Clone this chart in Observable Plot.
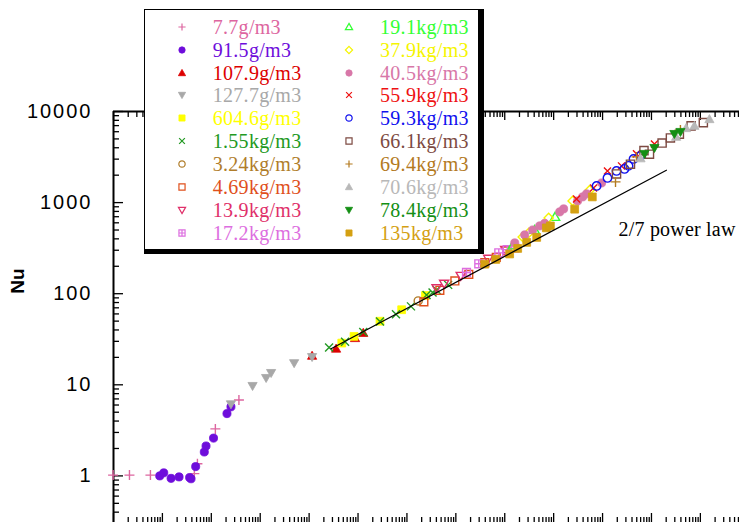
<!DOCTYPE html>
<html><head><meta charset="utf-8">
<script src="https://cdn.jsdelivr.net/npm/d3@7"></script>
<script src="https://cdn.jsdelivr.net/npm/@observablehq/plot@0.6"></script>
<style>
html,body{margin:0;padding:0;background:#fff;overflow:hidden}
#wrap{position:relative;width:739px;height:522px;overflow:hidden;background:#fff}
#legend{position:absolute;left:144px;top:9px;width:340px;height:245px;box-sizing:border-box;border-style:solid;border-color:#000;border-width:1px 6px 5px 1px;background:#fff}
.lab{position:absolute;font-family:"Liberation Serif","Times New Roman",serif;font-size:20px;line-height:22px;white-space:nowrap;letter-spacing:0.3px}
.sym{position:absolute;overflow:visible}
</style></head><body>
<div id="wrap"><div id="chart"></div><div id="legend"></div></div>
<script>
// ---- data ----
const densityLabels = ["7.7g/m3","91.5g/m3","107.9g/m3","127.7g/m3","604.6g/m3","1.55kg/m3","3.24kg/m3","4.69kg/m3","13.9kg/m3","17.2kg/m3",
  "19.1kg/m3","37.9kg/m3","40.5kg/m3","55.9kg/m3","59.3kg/m3","66.1kg/m3","69.4kg/m3","70.6kg/m3","78.4kg/m3","135kg/m3"];

const ra_7_7g = [98, 212, 569, 4.5e3, 5.2e3, 1.21e4, 3.67e4];
const nu_7_7g = [1.02, 1.02, 1.02, 1.06, 1.36, 3.28, 6.8];
const ra_91_5g = [881, 1065, 1505, 2190, 3600, 3850, 4790, 7190, 7800, 1.11e4, 2.09e4, 2.52e4];
const nu_91_5g = [1.0, 1.08, 0.94, 0.975, 0.96, 0.93, 1.265, 1.83, 2.13, 2.6, 4.83, 5.73];
const ra_107_9g = [1.15e6, 3.56e6, 8.69e6, 1.28e7];
const nu_107_9g = [20.8, 24.9, 32.5, 37.1];
const ra_127_7g = [2.52e4, 6.97e4, 1.32e5, 1.67e5, 4.94e5, 1.15e6];
const nu_127_7g = [6.12, 9.73, 11.9, 13.5, 17.3, 20.2];
const ra_604_6g = [4.65e6, 8.28e6, 2.81e7, 7.8e7, 2.39e8];
const nu_604_6g = [28.7, 34.0, 49.9, 66.7, 95.5];
const ra_1_55kg = [2.56e6, 5.43e6, 1.28e7, 2.81e7, 5.97e7, 1.21e8, 2.52e8, 3.34e8, 4.04e8, 6.97e8];
const nu_1_55kg = [25.6, 29.6, 38.1, 49.4, 59.6, 72.6, 97, 103, 110, 125];
const ra_3_24kg = [1.70e8];
const nu_3_24kg = [83.4];
const ra_4_69kg = [2.22e8, 4.71e8, 9.55e8, 1.84e9, 3.91e9, 6.71e9, 1.10e10];
const nu_4_69kg = [81.3, 109, 138, 163, 219, 250, 295];
const ra_13_9kg = [4.04e8, 5.77e8, 1.26e9, 4.6e9, 1.02e10];
const nu_13_9kg = [115, 129, 157, 242, 303];
const ra_17_2kg = [1.65e9, 2.94e9, 7.55e9, 1.12e10, 1.6e10];
const nu_17_2kg = [171, 213, 281, 304, 316];
const ra_19_1kg = [1.46e10, 4.09e10, 1.07e11];
const nu_19_1kg = [339, 501, 697];
const ra_37_9kg = [2.33e10, 3.09e10, 7.9e10, 2.44e11, 5.43e11];
const nu_37_9kg = [420, 465, 679, 1044, 1368];
const ra_40_5kg = [1.6e10, 2.56e10, 3.72e10, 5.18e10, 6.55e10, 1.33e11, 1.6e11, 3.09e11, 3.91e11, 4.71e11, 9.55e11];
const nu_40_5kg = [361, 442, 501, 555, 591, 791, 853, 1044, 1155, 1247, 1644];
const ra_55_9kg = [2.94e11, 6.55e11, 1.26e12, 2.44e12, 4.94e12, 1.15e13];
const nu_55_9kg = [1098, 1449, 2228, 2529, 3427, 4406];
const ra_59_3kg = [7.55e11, 1.26e12, 1.93e12, 2.81e12, 3.4e12, 4.3e12, 5.97e12];
const nu_59_3kg = [1525, 1866, 2228, 2344, 2529, 3017, 3258];
const ra_66_1kg = [1.93e12, 3.72e12, 7.03e12, 9.1e12, 1.65e13, 2.44e13, 3.72e13, 6.46e13, 1.15e14];
const nu_66_1kg = [2065, 2642, 3722, 3396, 4500, 5129, 5636, 6950, 7551];
const ra_69_4kg = [1.84e12, 4.94e12, 3.91e13];
const nu_69_4kg = [1687, 3175, 6280];
const ra_70_6kg = [5.97e12, 3.19e13, 5.1e13, 7.55e13, 1.53e14];
const nu_70_6kg = [3055, 5260, 6560, 6950, 8236];
const ra_78_4kg = [7.2e12, 1.15e13, 2.94e13, 3.91e13];
const nu_78_4kg = [3427, 3984, 5675, 5975];
const ra_135kg = [3.91e9, 6.55e9, 1.26e10, 1.84e10, 2.81e10, 4.5e10, 7.1e10, 8.57e10, 2.69e11, 6.17e11];
const nu_135kg = [211, 238, 273, 314, 366, 415, 528, 555, 847, 1155];

const seriesRa = [ra_7_7g, ra_91_5g, ra_107_9g, ra_127_7g, ra_604_6g, ra_1_55kg, ra_3_24kg, ra_4_69kg, ra_13_9kg, ra_17_2kg,
  ra_19_1kg, ra_37_9kg, ra_40_5kg, ra_55_9kg, ra_59_3kg, ra_66_1kg, ra_69_4kg, ra_70_6kg, ra_78_4kg, ra_135kg];
const seriesNu = [nu_7_7g, nu_91_5g, nu_107_9g, nu_127_7g, nu_604_6g, nu_1_55kg, nu_3_24kg, nu_4_69kg, nu_13_9kg, nu_17_2kg,
  nu_19_1kg, nu_37_9kg, nu_40_5kg, nu_55_9kg, nu_59_3kg, nu_66_1kg, nu_69_4kg, nu_70_6kg, nu_78_4kg, nu_135kg];

// 2/7 power law reference line: Nu = coef * Ra^(2/7)
const powerLawRa = [2.81e6, 2.02e13];
const powerLawCoef = 0.358;
const powerLawExp = 2 / 7;
const powerLawLabel = "2/7 power law";
const powerLawLabelAt = {ra: 2.12e12, nu: 501};

// axes
const xDomain = [1e2, Math.pow(10, 14.8)];
const yDomain = [0.308, 1e4];
const yMajor = [1, 10, 100, 1000, 10000];
const yMinor = [0.4, 0.5, 0.6, 0.7, 0.8, 0.9, 2, 3, 4, 5, 6, 7, 8, 9, 20, 30, 40, 50, 60, 70, 80, 90,
  200, 300, 400, 500, 600, 700, 800, 900, 2000, 3000, 4000, 5000, 6000, 7000, 8000, 9000];
const xDecades = [2, 3, 4, 5, 6, 7, 8, 9, 10, 11, 12, 13, 14];
const xMultipliers = [2, 3, 4, 5, 6, 7, 8, 9];
const yTitle = "Nu";

// ---- styles ----
const seriesStyles = [
  {symbol: "plus", filled: false, color: "#dd66a0", r: 5},
  {symbol: "circle", filled: true, color: "#6e0ddb", r: 4.6},
  {symbol: "triUp", filled: true, color: "#dd0000", r: 4.6},
  {symbol: "triDown", filled: true, color: "#a8a8a8", r: 4.6},
  {symbol: "square", filled: true, color: "#ffff00", r: 4.6},
  {symbol: "times", filled: false, color: "#229922", r: 5},
  {symbol: "circle", filled: false, color: "#b07d2a", r: 4.6},
  {symbol: "square", filled: false, color: "#e0501c", r: 4.6},
  {symbol: "triDown", filled: false, color: "#e0306a", r: 4.6},
  {symbol: "gridSquare", filled: false, color: "#dd6ee0", r: 4.6},
  {symbol: "triUp", filled: false, color: "#33ff33", r: 4.6},
  {symbol: "diamond", filled: false, color: "#f5f500", r: 4.6},
  {symbol: "circle", filled: true, color: "#d877a8", r: 4.6},
  {symbol: "times", filled: false, color: "#ee1111", r: 4.4},
  {symbol: "circle", filled: false, color: "#1010ee", r: 4.8},
  {symbol: "square", filled: false, color: "#7d4a42", r: 4.8},
  {symbol: "plus", filled: false, color: "#b37a1e", r: 5},
  {symbol: "triUp", filled: true, color: "#b8b8b8", r: 4.6},
  {symbol: "triDown", filled: true, color: "#148f14", r: 4.6},
  {symbol: "square", filled: true, color: "#d4a012", r: 4.6}
];

const R = s => Math.sqrt(s / Math.PI);
const symbols = {
  plus: {draw(c, s) { const r = R(s); c.moveTo(-r, 0); c.lineTo(r, 0); c.moveTo(0, -r); c.lineTo(0, r); }},
  times: {draw(c, s) { const r = R(s) * 0.8; c.moveTo(-r, -r); c.lineTo(r, r); c.moveTo(-r, r); c.lineTo(r, -r); }},
  circle: {draw(c, s) { const r = R(s) * 0.88; c.moveTo(r, 0); c.arc(0, 0, r, 0, 2 * Math.PI); c.closePath(); }},
  square: {draw(c, s) { const r = R(s) * 0.85; c.rect(-r, -r, 2 * r, 2 * r); }},
  triUp: {draw(c, s) { const r = R(s); c.moveTo(0, -r); c.lineTo(r, r * 0.75); c.lineTo(-r, r * 0.75); c.closePath(); }},
  triDown: {draw(c, s) { const r = R(s); c.moveTo(0, r); c.lineTo(r, -r * 0.75); c.lineTo(-r, -r * 0.75); c.closePath(); }},
  diamond: {draw(c, s) { const r = R(s); c.moveTo(0, -r); c.lineTo(r, 0); c.lineTo(0, r); c.lineTo(-r, 0); c.closePath(); }},
  gridSquare: {draw(c, s) { const r = R(s) * 0.85; c.rect(-r, -r, 2 * r, 2 * r); c.moveTo(-r, 0); c.lineTo(r, 0); c.moveTo(0, -r); c.lineTo(0, r); }}
};

const xMajor = xDecades.map(k => Math.pow(10, k));
const xMinor = xDecades.flatMap(k => xMultipliers.map(m => m * Math.pow(10, k))).filter(v => v < xDomain[1]);

const dotMarks = densityLabels.map((lab, i) => {
  const st = seriesStyles[i];
  const rows = seriesRa[i].map((ra, j) => ({ra, nu: seriesNu[i][j], series: lab}));
  return Plot.dot(rows, {
    x: "ra", y: "nu", symbol: symbols[st.symbol], r: st.r,
    fill: st.filled ? st.color : "none", stroke: st.color,
    strokeWidth: st.filled ? 0.8 : 1.4
  });
});

const lineRows = powerLawRa.map(ra => ({ra, nu: powerLawCoef * Math.pow(ra, powerLawExp)}));

const chart = Plot.plot({
  width: 739, height: 522,
  marginLeft: 113, marginTop: 111, marginRight: 0, marginBottom: 0,
  x: {type: "log", domain: xDomain},
  y: {type: "log", domain: yDomain},
  style: {background: "#fff", fontFamily: "Liberation Sans, Arial, sans-serif", fontSize: "12px"},
  marks: [
    Plot.ruleX([xDomain[0]], {stroke: "#000", strokeWidth: 2}),
    Plot.ruleY([yDomain[1]], {stroke: "#000", strokeWidth: 2}),
    Plot.axisY(yMajor, {anchor: "left", tickSize: -10, strokeWidth: 1.3, fill: "none", label: null}),
    Plot.axisY(yMinor, {anchor: "left", tickSize: -6, strokeWidth: 1.3, fill: "none", label: null}),
    Plot.axisY(yMajor, {anchor: "left", tickSize: 0, tickPadding: 21, tickFormat: d => String(d), fontSize: 20, label: null}),
    Plot.axisX(xMajor, {anchor: "top", tickSize: -8, strokeWidth: 1.3, fill: "none", label: null}),
    Plot.axisX(xMinor, {anchor: "top", tickSize: -5, strokeWidth: 1.3, fill: "none", label: null}),
    Plot.axisX(xMajor, {anchor: "bottom", tickSize: -9, strokeWidth: 1.3, fill: "none", label: null}),
    Plot.axisX(xMinor, {anchor: "bottom", tickSize: -5, strokeWidth: 1.3, fill: "none", label: null}),
    ...dotMarks,
    Plot.line(lineRows, {x: "ra", y: "nu", stroke: "#000", strokeWidth: 1.2}),
    Plot.text([powerLawLabelAt], {x: "ra", y: "nu", text: () => powerLawLabel, textAnchor: "start",
      fontFamily: "Liberation Serif, Times New Roman, serif", fontSize: 20, fill: "#000"}),
    Plot.text([{t: yTitle, nu: 100}], {y: "nu", text: "t", frameAnchor: "left", dx: -96, rotate: -90,
      fontWeight: "bold", fontSize: 19, fill: "#000"})
  ]
});
chart.querySelectorAll('g[aria-label="y-axis tick label"] text').forEach(t => t.setAttribute("letter-spacing", "2"));
chart.querySelectorAll('g[aria-label="text"] text').forEach(t => { if (t.textContent === powerLawLabel) t.setAttribute("letter-spacing", "0.2"); });
document.getElementById("chart").appendChild(chart);

// ---- legend (overlaid inside the plot, top-left) ----
const legend = document.getElementById("legend");
densityLabels.forEach((lab, i) => {
  const st = seriesStyles[i];
  const col = i < 10 ? 0 : 1, row = i % 10;
  const cy = 16.7 + 22.9 * row;
  const sx = col ? 204 : 36.7, tx = col ? 235 : 67.7;
  const rl = 3.6;
  const svg = d3.create("svg").attr("class", "sym").attr("width", 14).attr("height", 14)
    .style("left", (sx - 7) + "px").style("top", (cy - 7) + "px");
  svg.append("path").attr("transform", "translate(7,7)")
    .attr("d", d3.symbol(symbols[st.symbol], Math.PI * rl * rl)())
    .attr("fill", st.filled ? st.color : "none").attr("stroke", st.color)
    .attr("stroke-width", st.filled ? 0.8 : 1.2);
  legend.appendChild(svg.node());
  const span = document.createElement("span");
  span.className = "lab";
  span.textContent = lab;
  span.style.left = tx + "px";
  span.style.top = (cy - 11) + "px";
  span.style.color = st.color;
  legend.appendChild(span);
});
</script></body></html>
